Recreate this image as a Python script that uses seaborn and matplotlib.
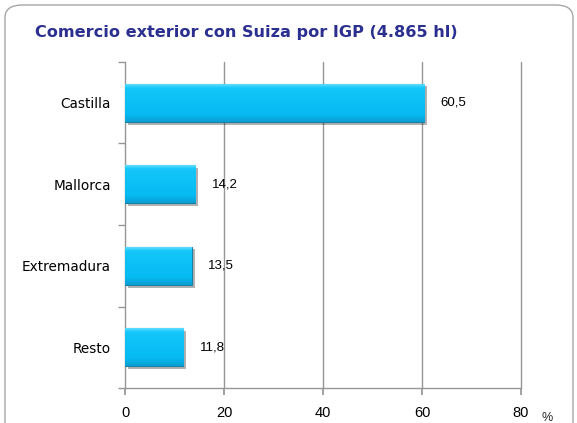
import numpy as np
import pandas as pd
import matplotlib
matplotlib.use("Agg")
import matplotlib.pyplot as plt
import matplotlib.patheffects as pe
from matplotlib.colors import LinearSegmentedColormap
from matplotlib.patches import FancyBboxPatch
import seaborn as sns

# data
regions = ["Castilla", "Mallorca", "Extremadura", "Resto"]
shares = [60.5, 14.2, 13.5, 11.8]
share_labels = ["60,5", "14,2", "13,5", "11,8"]
x_ticks = [0, 20, 40, 60, 80]

df = pd.DataFrame({"region": regions, "share": shares})

sns.set_theme(style="white")
fig = plt.figure(figsize=(5.77, 4.23), dpi=100)

# rounded frame around the chart
frame = FancyBboxPatch((5 / 577, -0.05), 568 / 577, 1 - 5 / 423 + 0.05,
                       boxstyle="round,pad=0,rounding_size=0.03",
                       transform=fig.transFigure, facecolor="none",
                       edgecolor="#a6a6a6", linewidth=1.0, zorder=-1)
fig.patches.append(frame)

fig.text(35 / 577, 1 - 32 / 423, "Comercio exterior con Suiza por IGP (4.865 hl)",
         color="#2b2f8f", fontsize=11.6, fontweight="bold", va="center", ha="left",
         family="DejaVu Sans")

ax = fig.add_axes([125 / 577, 1 - 388 / 423, 396 / 577, 326 / 423])
ax.set_facecolor("none")
ax.set_zorder(2)

sns.barplot(data=df, y="region", x="share", ax=ax, orient="h", width=0.47,
            color="#08bdf3", edgecolor="#1a7fa5", linewidth=0.8, zorder=3)

# gradient fill + shadow on each bar
cmap = LinearSegmentedColormap.from_list(
    "bar", [(0.0, "#6fe2ff"), (0.12, "#14c6fa"), (0.8, "#05bbf2"), (1.0, "#0a9fd3")])
grad = np.linspace(0, 1, 64).reshape(-1, 1)
for p in list(ax.patches):
    x0, y0 = p.get_x(), p.get_y()
    w, h = p.get_width(), p.get_height()
    p.set_path_effects([pe.SimplePatchShadow(offset=(2, -2), shadow_rgbFace="#000000", alpha=0.3),
                        pe.Normal()])
    im = ax.imshow(grad, cmap=cmap, aspect="auto", extent=(x0, x0 + w, y0 + h, y0),
                   origin="upper", zorder=3.5)
    im.set_clip_path(p)

for i, (v, lab) in enumerate(zip(shares, share_labels)):
    ax.text(v + 3.3, i, lab, va="center", ha="left", fontsize=9.5,
            family="Liberation Sans", color="#000000", zorder=5)

ax.set_xlim(0, 80)
ax.set_ylim(len(regions) - 0.5, -0.5)
ax.set_xticks(x_ticks)
ax.set_xticklabels([str(t) for t in x_ticks], fontsize=10.5, family="Liberation Sans",
                   color="#000000")
ax.set_yticks(range(len(regions)))
ax.set_yticklabels(regions, fontsize=9.8, family="DejaVu Sans", color="#000000")
ax.set_xlabel("")
ax.set_ylabel("")

# vertical gridlines
for t in x_ticks[1:]:
    ax.axvline(t, color="#969696", linewidth=1.0, zorder=1, clip_on=False)

for s in ["top", "right"]:
    ax.spines[s].set_visible(False)
for s in ["left", "bottom"]:
    ax.spines[s].set_color("#969696")
    ax.spines[s].set_linewidth(1.0)

# y ticks at category boundaries
ax.tick_params(axis="y", length=0, pad=10)
ax.set_yticks(np.arange(-0.5, len(regions), 1.0), minor=True)
ax.tick_params(axis="y", which="minor", length=5, color="#969696", direction="out", left=True)
ax.tick_params(axis="x", length=5, color="#969696", direction="out", pad=8, bottom=True)

fig.text(547 / 577, 1 - 418 / 423, "%", fontsize=9, ha="center", va="center",
         family="Liberation Sans")

fig.savefig("out.png", dpi=100)
